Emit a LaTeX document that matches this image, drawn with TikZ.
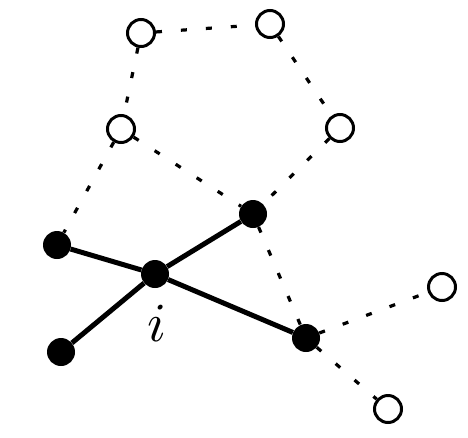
\documentclass[tikz,border=0pt]{standalone}
\begin{document}
\begin{tikzpicture}[x=1pt,y=-1pt,
  open/.style={circle,draw=black,fill=white,line width=3pt,minimum size=27pt,inner sep=0pt},
  full/.style={circle,fill=black,minimum size=28pt,inner sep=0pt},
  dashedge/.style={line width=3.2pt,dash pattern=on 6pt off 19pt,black},
  solidedge/.style={line width=5pt,black}]
\useasboundingbox (0,0) rectangle (468,437);
\node[open] (A) at (141,33) {};
\node[open] (B) at (270,24) {};
\node[open] (C) at (121,129) {};
\node[open] (D) at (340,128) {};
\node[open] (E) at (442,287) {};
\node[open] (F) at (388,409) {};
\node[full] (G) at (253,214) {};
\node[full] (H) at (57,245) {};
\node[full] (I) at (155,274) {};
\node[full] (J) at (61,352) {};
\node[full] (K) at (306,338) {};
\node[scale=5.5,inner sep=0pt] (lab) at (157,323) {$i$};
\draw[dashedge] (A) -- (B);
\draw[dashedge] (A) -- (C);
\draw[dashedge] (B) -- (D);
\draw[dashedge] (C) -- (H);
\draw[dashedge] (C) -- (G);
\draw[dashedge] (D) -- (G);
\draw[dashedge] (G) -- (K);
\draw[dashedge] (K) -- (E);
\draw[dashedge] (K) -- (F);
\draw[solidedge] (H) -- (I);
\draw[solidedge] (J) -- (I);
\draw[solidedge] (I) -- (G);
\draw[solidedge] (I) -- (K);
\end{tikzpicture}
\end{document}
